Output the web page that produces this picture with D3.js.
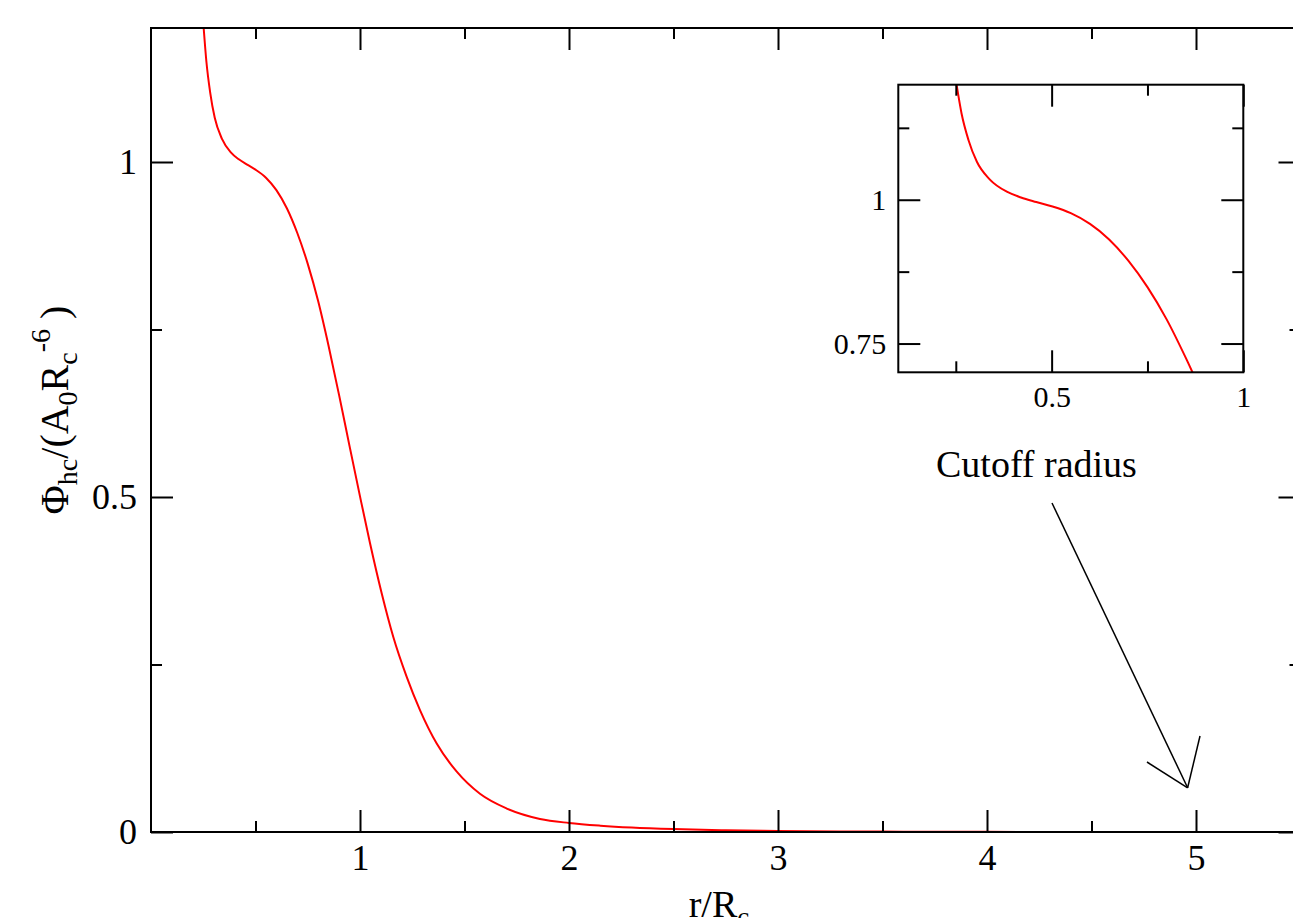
<!DOCTYPE html>
<html>
<head>
<meta charset="utf-8">
<script src="https://cdn.jsdelivr.net/npm/d3@7"></script>
<style>
  html, body { margin: 0; padding: 0; background: #fff; }
  svg { display: block; }
  text { font-family: "Liberation Serif", "DejaVu Serif", serif; fill: #000; }
</style>
</head>
<body>
<svg id="chart" width="1293" height="918"></svg>
<script>
// ---- data ----
const rValues = [0.252, 0.265, 0.283, 0.305, 0.339, 0.383, 0.420, 0.460, 0.500, 0.550, 0.600, 0.650, 0.700, 0.750, 0.800, 0.850, 0.900, 0.950, 1.000, 1.048, 1.104, 1.159, 1.223, 1.287, 1.367, 1.463, 1.574, 1.702, 1.861, 2.000, 2.150, 2.300, 2.500, 2.750, 3.000, 3.300, 3.600, 4.000, 4.500, 5.000];
const phiValues = [1.200, 1.150, 1.104, 1.066, 1.035, 1.014, 1.004, 0.996, 0.9886, 0.9766, 0.958, 0.931, 0.894, 0.848, 0.792, 0.725, 0.652, 0.576, 0.501, 0.431, 0.356, 0.2915, 0.232, 0.182, 0.132, 0.090, 0.057, 0.035, 0.0195, 0.0135, 0.0095, 0.0067, 0.0043, 0.0025, 0.0015, 0.0008, 0.0005, 0.0002, 0.0001, 0.00005];

const mainXTicks = [1, 2, 3, 4, 5];
const mainXMinor = [0.5, 1.5, 2.5, 3.5, 4.5, 5.5];
const mainYTicks = [0, 0.5, 1];
const mainYMinor = [0.25, 0.75];
const insetXTicks = [0.5, 1];
const insetXMinor = [0.25, 0.75];
const insetYTicks = [0.75, 1];
const insetYMinor = [0.875, 1.125];

const annotationText = "Cutoff radius";

const data = rValues.map((r, i) => ({ r, phi: phiValues[i] }));

const svg = d3.select("#chart");
svg.append("rect").attr("width", 1293).attr("height", 918).attr("fill", "#fff");

const MAJOR = 22, MINOR = 11;

function drawPanel(g, x, y, opt) {
  const [x0, x1] = x.range();
  const [y0, y1] = y.range();
  const id = opt.id;
  svg.append("clipPath").attr("id", id)
    .append("rect").attr("x", x0).attr("y", y1).attr("width", x1 - x0).attr("height", y0 - y1);

  const line = d3.line().x(d => x(d.r)).y(d => y(d.phi)).curve(d3.curveMonotoneX);
  g.append("path").datum(data)
    .attr("clip-path", `url(#${id})`)
    .attr("fill", "none").attr("stroke", "#ff0000").attr("stroke-width", 2)
    .attr("d", line);

  const style = sel => {
    sel.select(".domain").remove();
    sel.selectAll(".tick line").attr("stroke", "#000").attr("stroke-width", 2);
    sel.selectAll("text").attr("font-size", opt.fontSize).attr("font-family", '"Liberation Serif", serif').attr("fill", "#000");
  };

  // bottom
  g.append("g").attr("transform", `translate(0,${y0})`)
    .call(d3.axisBottom(x).tickValues(opt.xTicks).tickSize(-MAJOR).tickPadding(opt.xPad).tickFormat(d3.format("")))
    .call(style);
  g.append("g").attr("transform", `translate(0,${y0})`)
    .call(d3.axisBottom(x).tickValues(opt.xMinor).tickSize(-MINOR).tickFormat(""))
    .call(style);
  // top
  g.append("g").attr("transform", `translate(0,${y1})`)
    .call(d3.axisTop(x).tickValues(opt.xTicks).tickSize(-MAJOR).tickFormat(""))
    .call(style);
  g.append("g").attr("transform", `translate(0,${y1})`)
    .call(d3.axisTop(x).tickValues(opt.xMinor).tickSize(-MINOR).tickFormat(""))
    .call(style);
  // left
  g.append("g").attr("transform", `translate(${x0},0)`)
    .call(d3.axisLeft(y).tickValues(opt.yTicks).tickSize(-MAJOR).tickPadding(opt.yPad).tickFormat(d3.format("")))
    .call(style);
  g.append("g").attr("transform", `translate(${x0},0)`)
    .call(d3.axisLeft(y).tickValues(opt.yMinor).tickSize(-MINOR).tickFormat(""))
    .call(style);
  // right
  g.append("g").attr("transform", `translate(${x1},0)`)
    .call(d3.axisRight(y).tickValues(opt.yTicks).tickSize(-MAJOR).tickFormat(""))
    .call(style);
  g.append("g").attr("transform", `translate(${x1},0)`)
    .call(d3.axisRight(y).tickValues(opt.yMinor).tickSize(-MINOR).tickFormat(""))
    .call(style);

  g.append("rect").attr("x", x0).attr("y", y1).attr("width", x1 - x0).attr("height", y0 - y1)
    .attr("fill", "none").attr("stroke", "#000").attr("stroke-width", 2);
}

// main panel
const xMain = d3.scaleLinear().domain([0, 5.5]).range([151, 1300.5]);
const yMain = d3.scaleLinear().domain([0, 1.2]).range([832, 28]);
const gMain = svg.append("g");
drawPanel(gMain, xMain, yMain, {
  id: "clipMain", fontSize: 36, xPad: 12, yPad: 14,
  xTicks: mainXTicks, xMinor: mainXMinor, yTicks: mainYTicks, yMinor: mainYMinor
});

// inset panel
const xIn = d3.scaleLinear().domain([0.1, 1]).range([898.3, 1243.3]);
const yIn = d3.scaleLinear().domain([0.7, 1.2]).range([372.3, 84.7]);
const gIn = svg.append("g");
gIn.append("rect").attr("x", 898.3).attr("y", 84.7).attr("width", 345).attr("height", 287.6).attr("fill", "#fff");
drawPanel(gIn, xIn, yIn, {
  id: "clipInset", fontSize: 30, xPad: 13, yPad: 12,
  xTicks: insetXTicks, xMinor: insetXMinor, yTicks: insetYTicks, yMinor: insetYMinor
});

// axis labels
const xl = svg.append("text").attr("x", 719).attr("y", 917).attr("text-anchor", "middle").attr("font-size", 38);
xl.append("tspan").text("r/R");
xl.append("tspan").attr("dy", 9).attr("font-size", 27).text("c");

const yl = svg.append("text").attr("transform", "translate(68,410) rotate(-90)").attr("text-anchor", "middle").attr("font-size", 40);
yl.append("tspan").text("Φ");
yl.append("tspan").attr("dy", 9).attr("font-size", 28).text("hc");
yl.append("tspan").attr("dy", -9).text("/(A");
yl.append("tspan").attr("dy", 9).attr("font-size", 28).text("0");
yl.append("tspan").attr("dy", -9).text("R");
yl.append("tspan").attr("dy", 9).attr("font-size", 28).text("c");
yl.append("tspan").attr("dy", -27).attr("font-size", 28).text("-6");
yl.append("tspan").attr("dy", 18).text(" )");

// annotation
svg.append("text").attr("x", 936).attr("y", 477).attr("font-size", 38).text(annotationText);
const tip = [xMain(4.96), yMain(0.066)];
const arrow = svg.append("g").attr("stroke", "#000").attr("stroke-width", 1.5).attr("fill", "none");
arrow.append("line").attr("x1", 1052).attr("y1", 503).attr("x2", tip[0]).attr("y2", tip[1]);
arrow.append("line").attr("x1", 1147).attr("y1", 762).attr("x2", tip[0]).attr("y2", tip[1]);
arrow.append("line").attr("x1", 1200).attr("y1", 736).attr("x2", tip[0]).attr("y2", tip[1]);
</script>
</body>
</html>
